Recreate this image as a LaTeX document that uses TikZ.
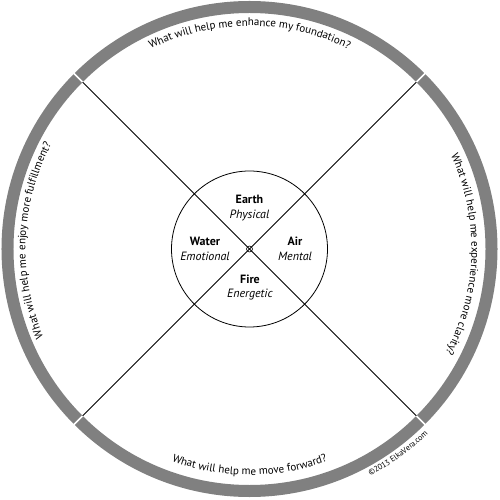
\documentclass[tikz,border=0pt]{standalone}
\usepackage{fontspec}
\setmainfont{PT Sans}
\usetikzlibrary{decorations.text}
\begin{document}
\begin{tikzpicture}[
		x=1pt, y=1pt,
		ring/.style={
				draw=black!50,
				line width=12pt,
			},
		gap/.style={
				draw=white,
				line width=1.5pt,
			},
		spoke/.style={
				draw=black,
				line width=.8pt,
			},
		element/.style={
				align=center,
				font=\fontsize{12}{14.5}\selectfont,
				inner sep=0pt,
			},
		question/.style={
				decorate,
				decoration={
						text along path,
						text align=center,
						text={|\fontsize{11}{13}\selectfont|#1},
					},
			},
		credit/.style={
				decorate,
				decoration={
						text along path,
						text align=center,
						text={|\fontsize{8}{9}\selectfont|#1},
					},
			},
	]

	\useasboundingbox (-249.5,-251) rectangle (250.5,249);

	\draw[ring] (0,0) circle[radius=242];
	\foreach \a in {45,135,225,315}
		\draw[gap] (\a:235) -- (\a:249);

	\node[circle, draw, line width=.8pt, minimum size=156pt] (core) at (0,0) {};
	\node[circle, draw, line width=.6pt, inner sep=0pt, minimum size=6pt] (hub) at (0,0) {};

	\coordinate (ne) at (45:236);
	\coordinate (nw) at (135:236);
	\coordinate (sw) at (225:236);
	\coordinate (se) at (315:236);
	\draw[spoke] (ne) -- (sw);
	\draw[spoke] (nw) -- (se);

	\node[element] (earth) at (0,41) {\textbf{Earth}\\\textit{Physical}};
	\node[element] (water) at (-44.5,0) {\textbf{Water}\\\textit{Emotional}};
	\node[element] (air) at (45.5,0) {\textbf{Air}\\\textit{Mental}};
	\node[element] (fire) at (0.5,-38.5) {\textbf{Fire}\\\textit{Energetic}};

	\path[question={What will help me enhance my foundation?}]
		(150:223) arc[start angle=150, end angle=30, radius=223];
	\path[question={What will help me experience more clarity?}]
		(58.5:222) arc[start angle=58.5, end angle=-61.5, radius=222];
	\path[question={What will help me move forward?}]
		(210:226) arc[start angle=210, end angle=330, radius=226];
	\path[question={What will help me enjoy more fulfillment?}]
		(237.7:224) arc[start angle=237.7, end angle=117.7, radius=224];
	\path[credit={©2013 ElkaVera.com}]
		(-80:257) arc[start angle=-80, end angle=-28, radius=257];
\end{tikzpicture}
\end{document}
